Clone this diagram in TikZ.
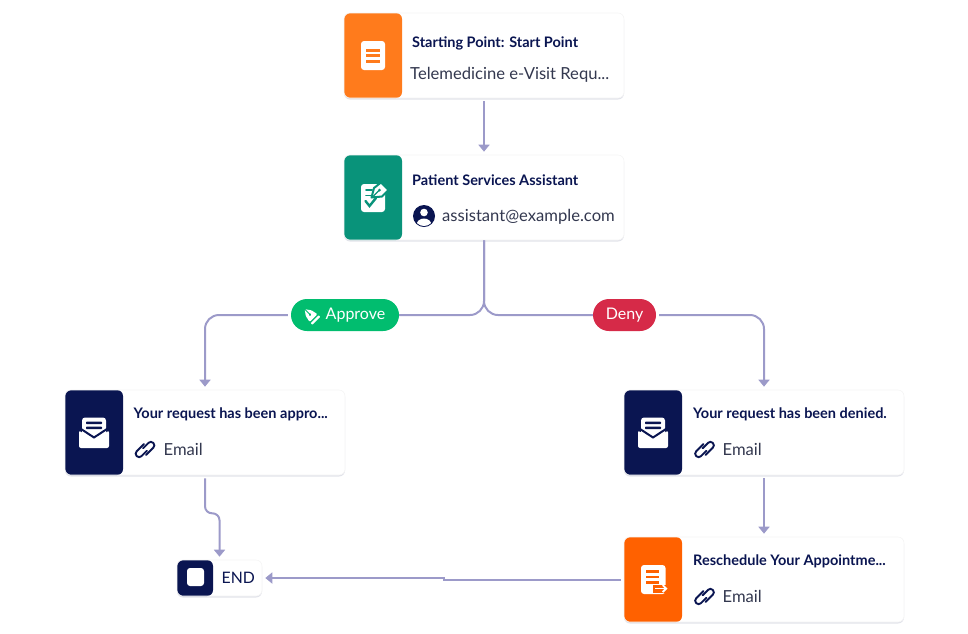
\documentclass[tikz,border=0pt]{standalone}
\usepackage{fontspec}
\setmainfont{Lato}
\usetikzlibrary{arrows.meta,shadows}
\definecolor{navy}{HTML}{0A1551}
\definecolor{ink}{HTML}{33384F}
\definecolor{flowline}{HTML}{9C9AC9}
\definecolor{startorange}{HTML}{FF7B1C}
\definecolor{signgreen}{HTML}{09937A}
\definecolor{fileorange}{HTML}{FF6100}
\definecolor{approvegreen}{HTML}{01BD6F}
\definecolor{denyred}{HTML}{D62A48}
\tikzset{
  card/.style={fill=white,draw=black!4,line width=.6pt,rounded corners=6pt,inner sep=0pt,
    minimum width=280pt,minimum height=85pt,
    drop shadow={shadow xshift=0pt,shadow yshift=-1.5pt,opacity=.12,fill=navy},
    path picture={\fill[#1] (path picture bounding box.north west) rectangle +(58,85);}},
  endcard/.style={card=navy,minimum width=85pt,minimum height=36pt,
    path picture={\fill[navy] (path picture bounding box.north west) rectangle +(36,36);}},
  cardtitle/.style={anchor=base west,inner sep=0pt,text=navy,font=\fontsize{14.5}{16}\bfseries\selectfont},
  cardtext/.style={anchor=base west,inner sep=0pt,text=ink,font=\fontsize{16.6}{19}\selectfont},
  pill/.style={fill=#1,rounded corners=16pt,inner sep=0pt,minimum height=32pt,text=white,font=\fontsize{16}{18}\selectfont},
  flow/.style={draw=flowline,line width=2pt,-{Triangle[width=11pt,length=7pt]},shorten >=3pt,shorten <=3pt},
  branch/.style={draw=flowline,line width=2pt,rounded corners=14pt},
  linkline/.style={draw=navy,line width=1.9pt,rounded corners=3.2pt,line cap=round}
}
\newcommand{\linkicon}[2]{
    \begin{scope}[shift={(#1,#2)},rotate=45]
      \draw[linkline] (0.5,2.2)--(-10.5,2.2)--(-10.5,-4.6)--(3,-4.6);
      \draw[linkline] (-0.5,-2.2)--(10.5,-2.2)--(10.5,4.6)--(-3,4.6);
    \end{scope}
}
\newcommand{\mailicon}[2]{
    \begin{scope}[shift={(#1,#2)}]
      \fill[white,rounded corners=3pt] (-12,-15.5) rectangle (12,6);
      \fill[navy,rounded corners=.8pt] (-8,-11.5) rectangle (8,-8.9);
      \fill[navy,rounded corners=.8pt] (-8,-6.4) rectangle (8,-3.8);
      \draw[navy,line width=2pt] (-16,-6)--(0,4.5)--(16,-6);
      \fill[white,rounded corners=2pt] (-15,-2.5)--(0,7)--(15,-2.5)--(15,15)--(-15,15)--cycle;
    \end{scope}
}
\begin{document}
\begin{tikzpicture}[x=1pt,y=-1pt]
    \useasboundingbox (0,0) rectangle (968,633);

    \node[card=startorange] (start) at (484,55.5) {};
    \node[card=signgreen] (assist) at (484,197.5) {};
    \node[card=navy] (mailA) at (205,432.5) {};
    \node[card=navy] (mailD) at (764,432.5) {};
    \node[card=fileorange] (resched) at (764,579.5) {};
    \node[endcard] (endnode) at (219.5,578) {};

    \node[pill=approvegreen,minimum width=108pt] (approve) at (345,315) {\hspace{21pt}\raisebox{-1pt}{Approve}};
    \node[pill=denyred,minimum width=63pt] (deny) at (624.5,315) {\raisebox{-1pt}{Deny}};

    \draw[flow] (start.south)--(assist.north);
    \draw[branch] (assist.south)|-(approve.east);
    \draw[branch] (assist.south)|-(deny.west);
    \draw[flow,rounded corners=14pt] (approve.west)-|(mailA.north);
    \draw[flow,rounded corners=14pt] (deny.east)-|(mailD.north);
    \draw[flow,rounded corners=7pt] (mailA.south)--++(0,38)-|(endnode.north);
    \draw[flow] (mailD.south)--(resched.north);
    \draw[flow] (resched.west)--++(-180,0)|-(endnode.east);

    \node[cardtitle] (startT) at (412,47) {Starting Point: Start Point};
    \node[cardtext] (startS) at (410,79) {Telemedicine e-Visit Requ...};
    \node[cardtitle] (assistT) at (412,185) {Patient Services Assistant};
    \node[cardtext] (assistS) at (442,221) {assistant@example.com};
    \node[cardtitle] (mailAT) at (133.5,418) {Your request has been appro...};
    \node[cardtext] (mailAS) at (163.5,455) {Email};
    \node[cardtitle] (mailDT) at (693,418) {Your request has been denied.};
    \node[cardtext] (mailDS) at (722.5,455) {Email};
    \node[cardtitle] (reschedT) at (693,565) {Reschedule Your Appointme...};
    \node[cardtext] (reschedS) at (722.5,602) {Email};
    \node[cardtext,text=navy,font=\fontsize{15.8}{18}\selectfont] (endT) at (221.5,583.5) {END};

    \fill[white,rounded corners=3pt] (361,41) rectangle (385,70);
    \foreach \y in {50,55.7,61.4}
      \draw[startorange,line width=3pt] (366,\y)--(380,\y);

    \fill[white,rounded corners=3pt] (361,184) rectangle (385,212);
    \draw[signgreen,line width=2.4pt,line cap=round] (365.5,201)--(369.5,206)--(376,198);
    \draw[signgreen,line width=2pt,line cap=round] (366,190)--(372,190);
    \draw[signgreen,line width=1.8pt,line cap=round] (366,195.5)--(371,195.5);
    \draw[signgreen,line width=2pt,fill=white,line join=round] (371.5,197.5)--(374,188)--(381,182.5)--(388.5,190)--(382,196.5)--cycle;
    \draw[signgreen,line width=1.2pt] (372.5,197)--(379.5,190);
    \fill[signgreen] (379.5,190) circle (1.5);

    \fill[navy] (424,216) circle (11);
    \fill[white] (424,212.5) circle (3.8);
    \begin{scope}
      \clip (424,216) circle (10);
      \fill[white] (424,225) ellipse (7.5 and 6.5);
    \end{scope}

    \mailicon{94}{433}
    \mailicon{653}{433}
    \linkicon{145}{449.5}
    \linkicon{704.5}{449.5}
    \linkicon{704.5}{596.5}

    \fill[white,rounded corners=3pt] (641,565) rectangle (665.5,594);
    \foreach \y in {571.5,577,582.5}
      \draw[fileorange,line width=2.4pt] (646,\y)--(659,\y);
    \draw[fileorange,line width=8pt] (653,588.5)--(668,588.5);
    \draw[white,line width=1.8pt,-{Straight Barb[length=3.5pt,width=7pt]}] (655,588.5)--(667.5,588.5);

    \fill[white,rounded corners=3pt] (187,568) rectangle (204,586);

    \begin{scope}[shift={(310,314.5)},rotate=225]
      \fill[white,rounded corners=1pt] (-5.5,-5)--(5.5,-5)--(4,2)--(0,7.5)--(-4,2)--cycle;
      \draw[approvegreen,line width=1pt] (0,0)--(0,7.5);
      \fill[approvegreen] (0,0) circle (1.4);
      \fill[white,rounded corners=.6pt] (-5.5,-9)--(5.5,-9)--(5.5,-6.6)--(-5.5,-6.6)--cycle;
    \end{scope}
\end{tikzpicture}
\end{document}
